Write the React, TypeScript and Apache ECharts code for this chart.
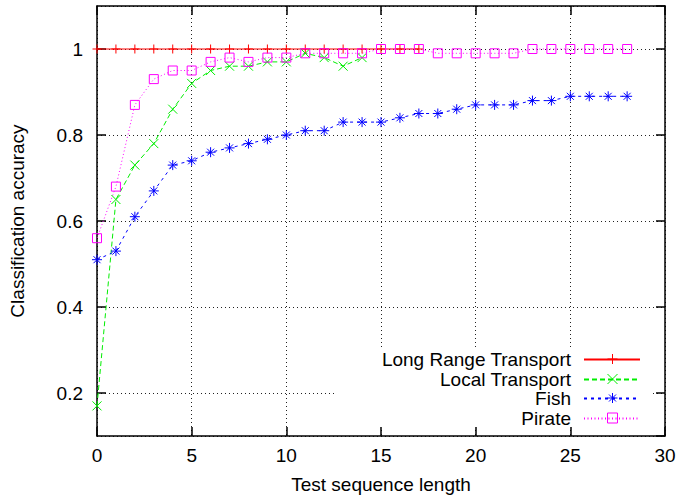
import React, { useEffect, useRef } from "react";
import * as echarts from "echarts";

const xLongRange = [0, 1, 2, 3, 4, 5, 6, 7, 8, 9, 10, 11, 12, 13, 14, 15, 16, 17];
const longRange = [1, 1, 1, 1, 1, 1, 1, 1, 1, 1, 1, 1, 1, 1, 1, 1, 1, 1];

const xLocal = [0, 1, 2, 3, 4, 5, 6, 7, 8, 9, 10, 11, 12, 13, 14];
const localTransport = [0.17, 0.65, 0.73, 0.78, 0.86, 0.92, 0.95, 0.96, 0.96, 0.97, 0.97, 0.99, 0.98, 0.96, 0.98];

const xFish = [0, 1, 2, 3, 4, 5, 6, 7, 8, 9, 10, 11, 12, 13, 14, 15, 16, 17, 18, 19, 20, 21, 22, 23, 24, 25, 26, 27, 28];
const fish = [0.51, 0.53, 0.61, 0.67, 0.73, 0.74, 0.76, 0.77, 0.78, 0.79, 0.8, 0.81, 0.81, 0.83, 0.83, 0.83, 0.84, 0.85, 0.85, 0.86, 0.87, 0.87, 0.87, 0.88, 0.88, 0.89, 0.89, 0.89, 0.89];

const xPirate = [0, 1, 2, 3, 4, 5, 6, 7, 8, 9, 10, 11, 12, 13, 14, 15, 16, 17, 18, 19, 20, 21, 22, 23, 24, 25, 26, 27, 28];
const pirate = [0.56, 0.68, 0.87, 0.93, 0.95, 0.95, 0.97, 0.98, 0.97, 0.98, 0.98, 0.99, 0.99, 0.99, 0.99, 1, 1, 1, 0.99, 0.99, 0.99, 0.99, 0.99, 1, 1, 1, 1, 1, 1];

const seriesNames = ["Long Range Transport", "Local Transport", "Fish", "Pirate"];
const seriesColors = ["#ff0000", "#00ee00", "#0000ff", "#ff00ff"];

const FONT = "'Liberation Sans', Arial, sans-serif";

const SYM_PLUS = "path://M0,5L10,5M5,0L5,10";
const SYM_CROSS = "path://M0,0L10,10M0,10L10,0";
const SYM_STAR = "path://M0,5L10,5M5,0L5,10M1.5,1.5L8.5,8.5M1.5,8.5L8.5,1.5";
const SYM_SQUARE = "path://M0,0L10,0L10,10L0,10Z";
const symbols = [SYM_PLUS, SYM_CROSS, SYM_STAR, SYM_SQUARE];
const symbolSizes = [9, 9, 10, 9];

export default function App() {
  const ref = useRef<HTMLDivElement>(null);
  useEffect(() => {
    if (!ref.current) return;
    const chart = echarts.init(ref.current, undefined, { renderer: "svg" });
    const zip = (xs: number[], ys: number[]) => xs.map((x, i) => [x, ys[i]]);
    const mk = (i: number, data: number[][], type: any) => ({
      name: seriesNames[i],
      type: "line",
      data,
      symbol: symbols[i],
      symbolSize: symbolSizes[i],
      showAllSymbol: true,
      lineStyle: { color: seriesColors[i], width: 1, type },
      itemStyle: { color: "transparent", borderColor: seriesColors[i], borderWidth: 1 },
      emphasis: { disabled: true },
    });
    const legendTops = [350, 370, 389, 409];
    const axisCommon = {
      type: "value" as const,
      axisLine: { show: true, onZero: false, lineStyle: { color: "#000", width: 1.5 } },
      axisTick: { show: true, inside: true, length: 9, lineStyle: { color: "#000", width: 1.5 } },
    };
    const lineLegends = seriesNames.map((n, i) => ({
      data: [n],
      right: 40,
      top: legendTops[i],
      orient: "vertical",
      align: "right",
      padding: 0,
      itemWidth: 56,
      itemHeight: 12,
      selectedMode: false,
      itemStyle: { opacity: 0, borderWidth: 0 },
      textStyle: { fontFamily: FONT, fontSize: 19, color: "#000", padding: [0, 8, 0, 0] },
    }));
    const markerLegends = seriesNames.map((n, i) => ({
      data: [n],
      right: 63,
      top: legendTops[i] + 3.5,
      orient: "vertical",
      align: "right",
      padding: 0,
      icon: symbols[i],
      itemWidth: 10,
      itemHeight: 10,
      selectedMode: false,
      formatter: () => "",
      itemStyle: { color: "transparent", borderColor: seriesColors[i], borderWidth: 1, opacity: 1 },
      textStyle: { fontSize: 2, color: "transparent" },
    }));
    chart.setOption({
      animation: false,
      textStyle: { fontFamily: FONT },
      grid: { left: 97, right: 16, top: 6, bottom: 65, containLabel: false },
      xAxis: [
        {
          ...axisCommon,
          position: "bottom",
          min: 0,
          max: 30,
          interval: 5,
          name: "Test sequence length",
          nameLocation: "middle",
          nameGap: 39,
          nameTextStyle: { fontFamily: FONT, fontSize: 19, color: "#000" },
          axisLabel: { fontFamily: FONT, fontSize: 19, color: "#000", margin: 10 },
          splitLine: { show: true, lineStyle: { color: "#222", width: 1, type: [1, 3] } },
        },
        {
          ...axisCommon,
          position: "top",
          min: 0,
          max: 30,
          interval: 5,
          axisLabel: { show: false },
          splitLine: { show: false },
        },
      ],
      yAxis: [
        {
          ...axisCommon,
          position: "left",
          min: 0.1,
          max: 1.1,
          splitNumber: 5,
          name: "Classification accuracy",
          nameLocation: "middle",
          nameGap: 70,
          nameTextStyle: { fontFamily: FONT, fontSize: 19, color: "#000" },
          axisLabel: {
            fontFamily: FONT,
            fontSize: 19,
            color: "#000",
            margin: 14,
            showMinLabel: false,
            showMaxLabel: false,
          },
          splitLine: { show: true, lineStyle: { color: "#222", width: 1, type: [1, 3] } },
        },
        {
          ...axisCommon,
          position: "right",
          min: 0.1,
          max: 1.1,
          splitNumber: 5,
          axisLabel: { show: false },
          splitLine: { show: false },
        },
      ],
      legend: [...lineLegends, ...markerLegends],
      graphic: [
        {
          type: "rect",
          z: 1,
          silent: true,
          shape: { x: 337, y: 350, width: 316, height: 77 },
          style: { fill: "#fff" },
        },
      ],
      series: [
        mk(0, zip(xLongRange, longRange), "solid"),
        mk(1, zip(xLocal, localTransport), [5, 3]),
        mk(2, zip(xFish, fish), [3, 4]),
        mk(3, zip(xPirate, pirate), [1, 2.5]),
      ],
    });
    return () => chart.dispose();
  }, []);
  return (
    <div
      ref={ref}
      style={{ position: "fixed", left: 0, top: 0, width: 681, height: 501, background: "#fff" }}
    />
  );
}
